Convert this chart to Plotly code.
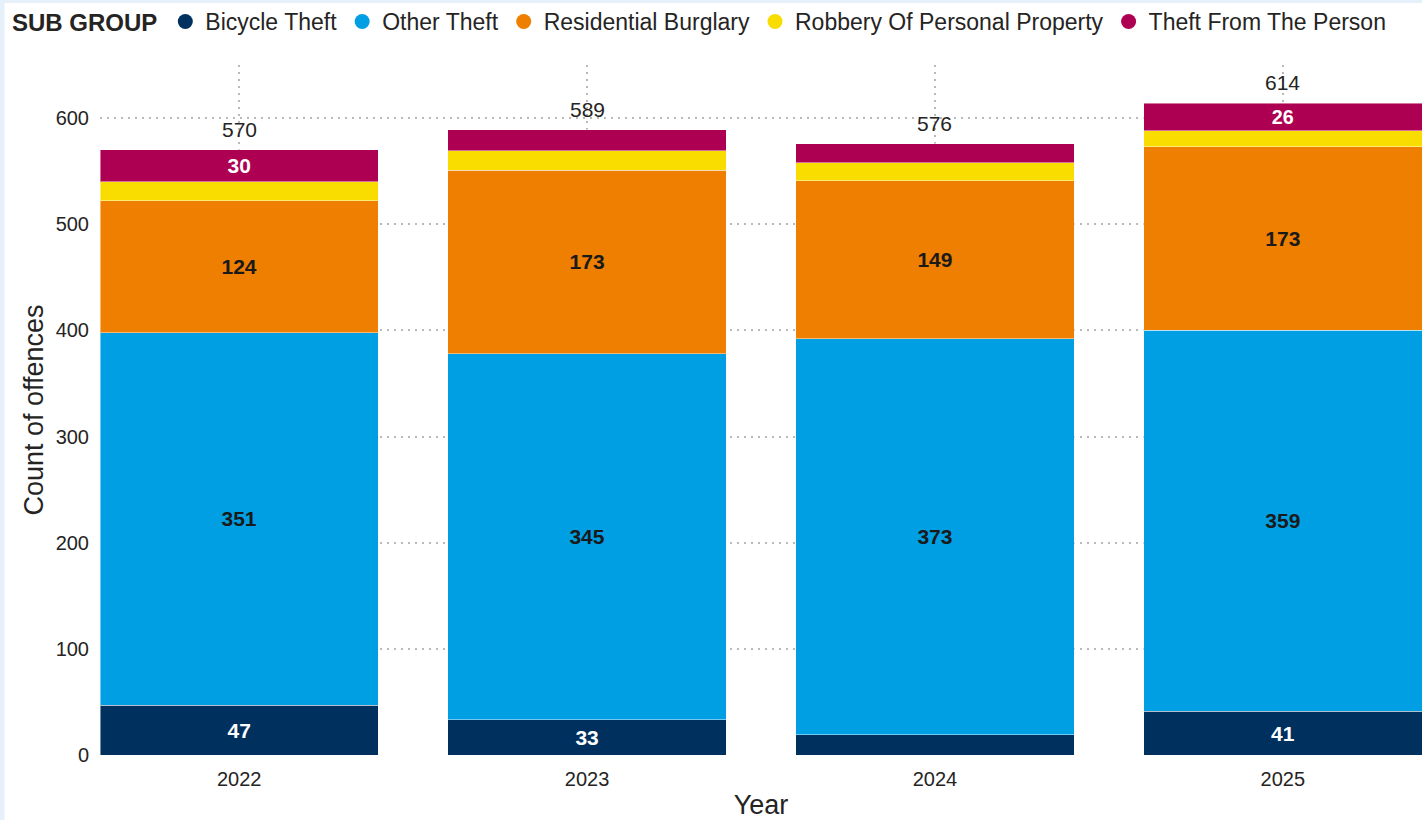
import plotly.graph_objects as go

# Data
years = ["2022", "2023", "2024", "2025"]
bicycle_theft = [47, 33, 19, 41]
other_theft = [351, 345, 373, 359]
residential_burglary = [124, 173, 149, 173]
robbery_personal = [18, 18, 17, 15]
theft_from_person = [30, 20, 18, 26]

series = [
    ("Bicycle Theft", bicycle_theft, "#00305e", "white"),
    ("Other Theft", other_theft, "#009fe3", "#1a1a1a"),
    ("Residential Burglary", residential_burglary, "#ee7f00", "#1a1a1a"),
    ("Robbery Of Personal Property", robbery_personal, "#f9dc00", "#1a1a1a"),
    ("Theft From The Person", theft_from_person, "#ae0052", "white"),
]

totals = [sum(vals) for vals in zip(*[s[1] for s in series])]

FONT = "Liberation Sans, Arial, sans-serif"
GRID = "#b9b9b9"

fig = go.Figure()

for name, vals, color, txtcolor in series:
    # small segments get no label, as in the original
    labels = [str(v) if v >= 25 else "" for v in vals]
    fig.add_trace(go.Bar(
        x=years,
        y=vals,
        name=name,
        marker=dict(color=color, line=dict(color="rgba(255,255,255,0.45)", width=1)),
        text=labels,
        textposition="inside",
        insidetextanchor="middle",
        textangle=0,
        insidetextfont=dict(family=FONT, size=21, color=txtcolor, weight="bold"),
        showlegend=False,
        hovertemplate=name + "<br>%{x}: %{y}<extra></extra>",
    ))

# legend entries with round markers
for name, vals, color, txtcolor in series:
    fig.add_trace(go.Scatter(
        x=[None], y=[None],
        mode="markers",
        name=name,
        marker=dict(color=color, size=15, symbol="circle"),
        showlegend=True,
    ))

# totals above each stack (x by category index)
for i, tot in enumerate(totals):
    fig.add_annotation(
        x=i, y=tot, text=str(tot),
        showarrow=False, yanchor="bottom", yshift=7,
        font=dict(family=FONT, size=21, color="#252423"),
    )

# light blue page frame on left and top
frame = "#e6f0fb"
fig.add_shape(type="rect", xref="paper", yref="paper",
              x0=-0.0760, x1=-0.0722, y0=-0.1, y1=1.1,
              fillcolor=frame, line_width=0, layer="below")
fig.add_shape(type="rect", xref="paper", yref="paper",
              x0=-0.08, x1=1.01, y0=1.090, y1=1.1,
              fillcolor=frame, line_width=0, layer="below")

fig.update_layout(
    width=1422,
    height=820,
    barmode="stack",
    bargap=0.2,
    paper_bgcolor="white",
    plot_bgcolor="white",
    font=dict(family=FONT, color="#252423"),
    margin=dict(t=65, r=0, b=65, l=100),
    legend=dict(
        orientation="h",
        traceorder="normal",
        xref="container", yref="container",
        x=0.007, y=1.0, xanchor="left", yanchor="top",
        title=dict(text="<b>SUB GROUP</b>", font=dict(size=24, color="#252423")),
        font=dict(size=23, color="#252423"),
        itemwidth=30,
        tracegroupgap=0,
        bgcolor="rgba(0,0,0,0)",
    ),
    xaxis=dict(
        type="category",
        range=[-0.4, 3.4],
        showgrid=True,
        griddash="2px,5px",
        gridcolor=GRID,
        gridwidth=1.5,
        tickfont=dict(size=20, color="#252423"),
        ticklabelstandoff=10,
        ticks="",
        title=dict(text="Year", font=dict(size=27, color="#252423"), standoff=8),
        showline=False,
        zeroline=False,
    ),
    yaxis=dict(
        range=[0, 650],
        dtick=100,
        showgrid=True,
        griddash="2px,5px",
        gridcolor=GRID,
        gridwidth=1.5,
        tickfont=dict(size=20, color="#252423"),
        ticklabelstandoff=10,
        title=dict(text="Count of offences", font=dict(size=27, color="#252423"), standoff=4),
        zeroline=False,
        showline=False,
    ),
)

fig.write_html(
    "out.html",
    config={"displayModeBar": False},
    post_script="document.body.style.margin='0';",
)
